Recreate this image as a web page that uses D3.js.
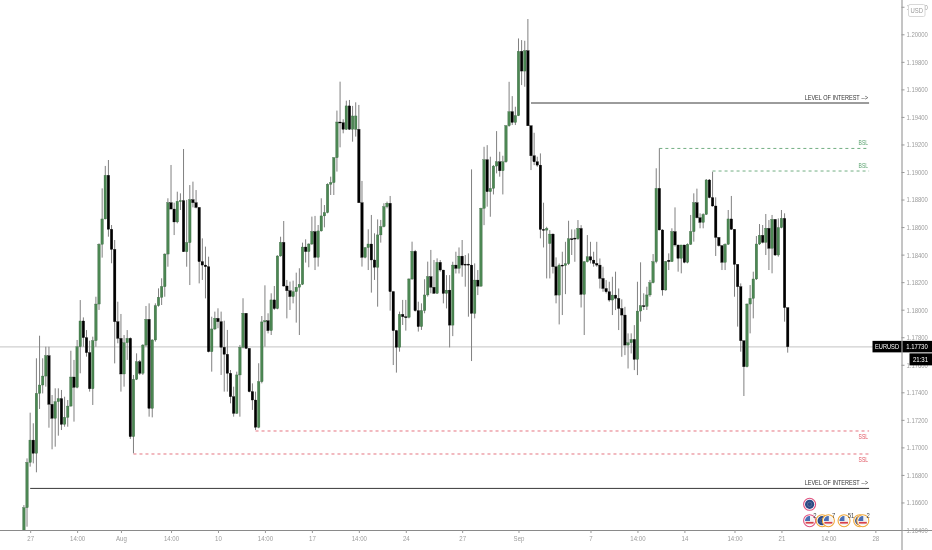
<!DOCTYPE html>
<html>
<head>
<meta charset="utf-8">
<style>
html, body { margin: 0; padding: 0; background: #fff; }
svg { display: block; filter: blur(0.3px); }
text { font-family: "Liberation Sans", sans-serif; }
</style>
<script src="https://cdn.jsdelivr.net/npm/d3@7"></script>
</head>
<body>
<svg width="932" height="550"></svg>
<script>
var opens = [
1.16327,1.16562,1.16891,1.17053,1.16957,1.17392,1.17453,1.17518,1.17666,1.17313,
1.17211,1.17332,1.17354,1.17167,1.17218,1.17300,1.17511,1.17436,1.17731,1.17918,
1.17797,1.17688,1.17426,1.17775,1.18041,1.18475,1.18659,1.18976,1.18584,1.18438,
1.17913,1.17792,1.17533,1.17760,1.17792,1.17078,1.17494,1.17622,1.17538,1.17743,
1.17930,1.17283,1.17780,1.18029,1.18090,1.18167,1.18404,1.18777,1.18731,1.18637,
1.18787,1.18792,1.18421,1.18487,1.18799,1.18777,1.18743,1.18349,1.18324,1.18312,
1.17695,1.17860,1.17937,1.17913,1.17727,1.17676,1.17538,1.17368,1.17247,1.17526,
1.17727,1.17974,1.17719,1.17405,1.17344,1.17146,1.17477,1.17911,1.17920,1.17848,
1.18071,1.18008,1.18390,1.18489,1.18172,1.18138,1.18095,1.18131,1.18163,1.18184,
1.18455,1.18422,1.18477,1.18567,1.18380,1.18572,1.18681,1.18705,1.18911,1.18923,
1.19104,1.19363,1.19358,1.19310,1.19480,1.19310,1.19310,1.19310,1.18777,1.18380,
1.18451,1.18477,1.18361,1.18308,1.18543,1.18603,1.18748,1.18773,1.18131,1.17848,
1.17727,1.17966,1.17949,1.17945,1.18223,1.18424,1.17993,1.17877,1.17993,1.18107,
1.18240,1.18163,1.18119,1.18344,1.18288,1.18118,1.18142,1.17888,1.18324,1.18300,
1.18389,1.18331,1.18331,1.18324,1.17973,1.18215,1.18171,1.18736,1.19089,1.18857,
1.18881,1.19043,1.19074,1.19009,1.19074,1.19336,1.19438,1.19360,1.19409,1.19876,
1.19733,1.19881,1.19336,1.19118,1.19074,1.19050,1.18583,1.18578,1.18481,1.18549,
1.18312,1.18106,1.18324,1.18321,1.18333,1.18515,1.18520,1.18515,1.18590,1.18111,
1.18348,1.18384,1.18360,1.18336,1.18324,1.18227,1.18154,1.18130,1.18070,1.18106,
1.18082,1.18009,1.17961,1.17743,1.17760,1.17784,1.17639,1.17990,1.18029,1.18024,
1.18107,1.18196,1.18349,1.18881,1.18579,1.18143,1.18359,1.18349,1.18567,1.18470,
1.18373,1.18470,1.18344,1.18475,1.18567,1.18777,1.18668,1.18634,1.18692,1.18942,
1.18814,1.18753,1.18525,1.18465,1.18344,1.18475,1.18659,1.18584,1.18329,1.18167,
1.17775,1.17586,1.18041,1.18082,1.18223,1.18477,1.18540,1.18489,1.18591,1.18446,
1.18656,1.18397,1.18596,1.18663,1.18015];
var highs = [
1.16581,1.16920,1.17252,1.17175,1.17647,1.17811,1.17647,1.17731,1.17731,1.17380,
1.17429,1.17429,1.17417,1.17368,1.17344,1.17702,1.17635,1.17780,1.18070,1.17944,
1.17852,1.17775,1.17804,1.18094,1.18482,1.18881,1.19044,1.19087,1.18615,1.18506,
1.18058,1.17969,1.17816,1.17852,1.17799,1.17526,1.17683,1.17635,1.17750,1.18027,
1.18046,1.17785,1.18046,1.18155,1.18228,1.18409,1.18809,1.19051,1.18777,1.18857,
1.18845,1.19167,1.18797,1.18905,1.18930,1.18869,1.18743,1.18518,1.18458,1.18385,
1.17949,1.17986,1.18010,1.17986,1.17920,1.17853,1.17562,1.17441,1.17550,1.17744,
1.18083,1.17974,1.17719,1.17465,1.17405,1.17611,1.17954,1.18177,1.17974,1.18119,
1.18172,1.18395,1.18530,1.18644,1.18216,1.18204,1.18211,1.18269,1.18301,1.18487,
1.18511,1.18482,1.18676,1.18681,1.18615,1.18809,1.18760,1.18918,1.18966,1.19107,
1.19446,1.19656,1.19383,1.19518,1.19523,1.19480,1.19506,1.19487,1.18935,1.18455,
1.18584,1.18688,1.18555,1.18656,1.18652,1.18773,1.18785,1.18826,1.18136,1.17853,
1.17986,1.18071,1.18071,1.18228,1.18494,1.18434,1.18058,1.18046,1.18221,1.18349,
1.18434,1.18361,1.18373,1.18361,1.18288,1.18251,1.18251,1.18348,1.18421,1.18452,
1.18506,1.18397,1.18409,1.19019,1.18336,1.18288,1.18740,1.19183,1.19195,1.19111,
1.19050,1.19297,1.19147,1.19118,1.19341,1.19655,1.19551,1.19474,1.19970,1.19958,
1.19953,1.20111,1.19338,1.19285,1.19111,1.19135,1.18777,1.18602,1.18578,1.18554,
1.18380,1.18336,1.18421,1.18493,1.18646,1.18583,1.18583,1.18651,1.18614,1.18353,
1.18542,1.18493,1.18421,1.18493,1.18372,1.18312,1.18215,1.18203,1.18239,1.18276,
1.18154,1.18075,1.18021,1.17828,1.17828,1.17888,1.18203,1.18344,1.18119,1.18167,
1.18216,1.18404,1.19027,1.19172,1.18584,1.18354,1.18409,1.18591,1.18743,1.18470,
1.18470,1.18470,1.18482,1.18688,1.18845,1.18879,1.18700,1.18700,1.18949,1.18949,
1.19002,1.18816,1.18525,1.18470,1.18482,1.18724,1.18826,1.18584,1.18329,1.18191,
1.17775,1.18046,1.18179,1.18276,1.18535,1.18622,1.18615,1.18695,1.18651,1.18688,
1.18656,1.18663,1.18724,1.18700,1.18015];
var lows = [
1.16255,1.16424,1.16860,1.16884,1.16819,1.17279,1.17392,1.17441,1.17143,1.16986,
1.17005,1.17085,1.17126,1.17150,1.17150,1.17296,1.17187,1.17429,1.17538,1.17731,
1.17659,1.17405,1.17308,1.17731,1.17998,1.18378,1.18656,1.18530,1.18337,1.17610,
1.17756,1.17405,1.17441,1.17635,1.17061,1.16957,1.17489,1.17526,1.17526,1.17731,
1.17223,1.17218,1.17768,1.18022,1.18034,1.18094,1.18312,1.18729,1.18542,1.18627,
1.18724,1.18419,1.18312,1.18179,1.18743,1.18736,1.18191,1.18216,1.18082,1.17690,
1.17550,1.17852,1.17865,1.17526,1.17405,1.17405,1.17320,1.17223,1.17243,1.17223,
1.17719,1.17715,1.17400,1.17272,1.17126,1.17139,1.17465,1.17732,1.17828,1.17816,
1.17998,1.18003,1.18385,1.18167,1.17937,1.17998,1.18046,1.17906,1.17816,1.18179,
1.18342,1.18308,1.18470,1.18288,1.18313,1.18567,1.18598,1.18700,1.18833,1.18833,
1.19003,1.19179,1.19281,1.19305,1.19305,1.19220,1.19257,1.18775,1.18313,1.18373,
1.18288,1.18124,1.18216,1.18022,1.18487,1.18598,1.18736,1.17993,1.17598,1.17543,
1.17695,1.17889,1.17848,1.17937,1.18216,1.17986,1.17841,1.17853,1.17974,1.18095,
1.18119,1.18114,1.18114,1.18276,1.18046,1.18009,1.17726,1.17808,1.18263,1.18263,
1.18239,1.18167,1.17949,1.17627,1.17937,1.18106,1.18167,1.18614,1.18748,1.18675,
1.18837,1.18990,1.18966,1.18837,1.19067,1.19329,1.19341,1.19341,1.19406,1.19631,
1.19619,1.19334,1.19014,1.19050,1.19038,1.18518,1.18452,1.18227,1.18227,1.18263,
1.18046,1.17893,1.17961,1.18113,1.18324,1.18397,1.18348,1.18506,1.18016,1.17816,
1.18343,1.18336,1.18312,1.18312,1.18154,1.18130,1.18118,1.18058,1.17961,1.17997,
1.17852,1.17658,1.17670,1.17573,1.17682,1.17561,1.17525,1.17913,1.17998,1.17998,
1.18094,1.18191,1.18337,1.18576,1.18102,1.18138,1.18288,1.18349,1.18458,1.18276,
1.18264,1.18337,1.18337,1.18470,1.18494,1.18663,1.18591,1.18591,1.18688,1.18809,
1.18748,1.18390,1.18458,1.18288,1.18288,1.18470,1.18579,1.18094,1.17877,1.17695,
1.17373,1.17581,1.17828,1.17937,1.18216,1.18470,1.18482,1.18397,1.18288,1.18264,
1.18390,1.18385,1.18591,1.17913,1.17688];
var closes = [
1.16562,1.16891,1.17053,1.16957,1.17392,1.17453,1.17518,1.17666,1.17313,1.17211,
1.17332,1.17354,1.17167,1.17218,1.17300,1.17511,1.17436,1.17731,1.17918,1.17797,
1.17688,1.17426,1.17775,1.18041,1.18475,1.18659,1.18976,1.18584,1.18438,1.17913,
1.17792,1.17533,1.17760,1.17792,1.17078,1.17494,1.17622,1.17538,1.17743,1.17930,
1.17283,1.17780,1.18029,1.18090,1.18167,1.18404,1.18777,1.18731,1.18637,1.18787,
1.18792,1.18421,1.18487,1.18799,1.18777,1.18743,1.18349,1.18324,1.18312,1.17695,
1.17860,1.17937,1.17913,1.17727,1.17676,1.17538,1.17368,1.17247,1.17526,1.17727,
1.17974,1.17719,1.17405,1.17344,1.17146,1.17477,1.17911,1.17920,1.17848,1.18071,
1.18008,1.18390,1.18489,1.18172,1.18138,1.18095,1.18131,1.18163,1.18184,1.18455,
1.18422,1.18477,1.18567,1.18380,1.18572,1.18681,1.18705,1.18911,1.18923,1.19104,
1.19363,1.19358,1.19310,1.19480,1.19310,1.19407,1.19407,1.18777,1.18380,1.18451,
1.18477,1.18361,1.18308,1.18543,1.18603,1.18748,1.18773,1.18131,1.17848,1.17727,
1.17966,1.17949,1.17945,1.18223,1.18424,1.17993,1.17877,1.17993,1.18107,1.18240,
1.18163,1.18119,1.18344,1.18288,1.18118,1.18142,1.17888,1.18324,1.18300,1.18389,
1.18324,1.18324,1.18324,1.17973,1.18215,1.18171,1.18736,1.19089,1.18857,1.18881,
1.19043,1.19074,1.19009,1.19074,1.19336,1.19438,1.19360,1.19409,1.19876,1.19733,
1.19881,1.19336,1.19118,1.19074,1.19050,1.18583,1.18578,1.18590,1.18549,1.18312,
1.18106,1.18324,1.18321,1.18333,1.18515,1.18510,1.18515,1.18590,1.18111,1.18348,
1.18384,1.18360,1.18336,1.18324,1.18227,1.18154,1.18130,1.18070,1.18106,1.18082,
1.18009,1.17961,1.17743,1.17760,1.17784,1.17639,1.17990,1.18029,1.18024,1.18107,
1.18196,1.18349,1.18881,1.18579,1.18143,1.18349,1.18349,1.18567,1.18470,1.18373,
1.18470,1.18344,1.18475,1.18567,1.18777,1.18668,1.18634,1.18692,1.18942,1.18814,
1.18753,1.18525,1.18465,1.18344,1.18475,1.18659,1.18584,1.18329,1.18167,1.17775,
1.17586,1.18041,1.18082,1.18223,1.18477,1.18540,1.18489,1.18591,1.18446,1.18656,
1.18397,1.18596,1.18663,1.18015,1.17731];

var priceTicks = [1.202,1.2,1.198,1.196,1.194,1.192,1.19,1.188,1.186,1.184,1.182,1.18,1.178,1.176,1.174,1.172,1.17,1.168,1.166,1.164];
var timeTickIndex = [2,17,31,47,62,77,92,107,122,140,158,181,196,211,227,242,257,272];
var timeTickLabels = ["27","14:00","Aug","14:00","10","14:00","17","14:00","24","27","Sep","7","14:00","14","14:00","21","14:00","28"];

var lastPrice = 1.1773;
var levelNames = ["LEVEL OF INTEREST -->","BSL","BSL","SSL","SSL","LEVEL OF INTEREST -->"];
var levelPrices = [1.19501,1.19171,1.19007,1.17119,1.16952,1.16702];
var levelStarts = [162,203,220,74,35,2];
var levelEnd = 270;
var levelKinds = ["solid","bsl","bsl","ssl","ssl","solid"];

var eventIndex = [251,251,255,257,262,267,268];
var eventRows = [1,0,0,0,0,0,0];
var eventKinds = ["eu","us","eu","us","us","eu","us"];
var eventCounts = ["","2","","7","51","","2"];

var svg = d3.select("svg"),
    plotRight = 901.5,
    plotBottom = 530;

var x = d3.scaleLinear().domain([0, 244]).range([23.9, 787.7]);
var y = d3.scaleLinear().domain([1.2, 1.164]).range([34.3, 530]);

// the labels in the picture are narrower than any installed font,
// so squash each one sideways around its own anchor
function squeeze(sel, factor) {
    sel.each(function () {
        var ax = +this.getAttribute("x") || 0;
        this.setAttribute("transform", "translate(" + ax * (1 - factor) + ",0) scale(" + factor + ",1)");
    });
}

var defs = svg.append("defs");
defs.append("clipPath").attr("id", "plot").append("rect")
    .attr("width", plotRight).attr("height", plotBottom);

var chart = svg.append("g").attr("clip-path", "url(#plot)");

// last price line goes under the candles
chart.append("line")
    .attr("x1", 0).attr("x2", plotRight)
    .attr("y1", y(lastPrice)).attr("y2", y(lastPrice))
    .attr("stroke", "#cfcfcf").attr("stroke-width", 1.3);

var levelColor = { solid: "#222", bsl: "#4f9a63", ssl: "#e0525f" };
var labelColor = { solid: "#333", bsl: "#5aa26f", ssl: "#e0525f" };

levelNames.forEach(function (name, i) {
    var kind = levelKinds[i];
    chart.append("line")
        .attr("x1", x(levelStarts[i])).attr("x2", x(levelEnd))
        .attr("y1", y(levelPrices[i])).attr("y2", y(levelPrices[i]))
        .attr("stroke", levelColor[kind])
        .attr("stroke-width", kind == "solid" ? 0.9 : 0.8)
        .attr("stroke-dasharray", kind == "solid" ? null : "3,3");
    var below = kind == "ssl";
    chart.append("text")
        .attr("x", x(levelEnd) - 1)
        .attr("y", y(levelPrices[i]) + (below ? 8 : -3))
        .attr("text-anchor", "end")
        .attr("font-size", 6.6)
        .attr("fill", labelColor[kind])
        .text(name)
        .call(squeeze, kind == "solid" ? 0.84 : 0.76);
});

var candles = d3.range(closes.length);

chart.append("g").selectAll("line").data(candles).enter().append("line")
    .attr("x1", function (d) { return x(d); })
    .attr("x2", function (d) { return x(d); })
    .attr("y1", function (d) { return y(highs[d]); })
    .attr("y2", function (d) { return y(lows[d]); })
    .attr("stroke", "#808080")
    .attr("stroke-width", 1);

chart.append("g").selectAll("rect").data(candles).enter().append("rect")
    .attr("x", function (d) { return x(d) - 1.25; })
    .attr("width", 2.5)
    .attr("y", function (d) { return y(Math.max(opens[d], closes[d])); })
    .attr("height", function (d) { return Math.max(1, Math.abs(y(opens[d]) - y(closes[d]))); })
    .attr("fill", function (d) { return closes[d] >= opens[d] ? "#4c8753" : "#000"; })
    .attr("stroke", function (d) { return closes[d] >= opens[d] ? "#2f5e37" : "#000"; })
    .attr("stroke-width", 0.3);

// event badges sitting on the time axis
var rowY = [520.7, 504.3];

function drawBadge(i) {
    var cx = x(eventIndex[i]), cy = rowY[eventRows[i]], kind = eventKinds[i];
    var ring = (i < 2) ? "#e0527f" : "#f0a83c";
    var g = svg.append("g").attr("transform", "translate(" + cx + "," + cy + ")");
    g.append("circle").attr("r", 6).attr("fill", "#fff").attr("stroke", ring).attr("stroke-width", 1.1);
    if (kind == "eu") {
        g.append("circle").attr("r", 4.6).attr("fill", "#2d4a86");
        g.append("circle").attr("r", 2.2).attr("fill", "none").attr("stroke", "#6e7f9e").attr("stroke-width", 0.6);
    } else {
        g.append("circle").attr("r", 4.6).attr("fill", "#f2f2f2");
        g.append("rect").attr("x", -4).attr("y", 1.2).attr("width", 8).attr("height", 1.7).attr("fill", "#d8404a");
        g.append("path").attr("d", "M-4.6,0.4A4.6,4.6 0 0 1 0.4,-4.6V0.4Z").attr("fill", "#4a6fb5");
    }
    if (eventCounts[i]) {
        svg.append("text")
            .attr("x", cx + 3.6).attr("y", cy - 3)
            .attr("font-size", 7).attr("fill", "#444")
            .text(eventCounts[i])
            .call(squeeze, 0.85);
    }
}
// same paint order as the picture: later badges overlap earlier ones
d3.range(eventIndex.length).forEach(drawBadge);

// axes
var axisColor = "#8a8a8a", tickColor = "#999", labelGray = "#9c9c9c";

var xAxis = d3.axisBottom(x)
    .tickValues(timeTickIndex)
    .tickSize(3)
    .tickPadding(3)
    .tickFormat(function (d, i) { return timeTickLabels[i]; });

var gx = svg.append("g").attr("transform", "translate(0," + plotBottom + ")").call(xAxis);
gx.select(".domain").attr("d", "M0,0.5H932").attr("stroke", axisColor);
gx.selectAll(".tick line").attr("stroke", tickColor);
gx.selectAll(".tick text")
    .attr("font-size", 7.6).attr("fill", labelGray).attr("font-family", null)
    .call(squeeze, 0.8);

var yAxis = d3.axisRight(y)
    .tickValues(priceTicks)
    .tickSize(3)
    .tickPadding(2)
    .tickFormat(d3.format(".5f"));

var gy = svg.append("g").attr("transform", "translate(" + plotRight + ",0)").call(yAxis);
gy.select(".domain").attr("d", "M0.5,0V550").attr("stroke", axisColor);
gy.selectAll(".tick line").attr("stroke", tickColor);
gy.selectAll(".tick text")
    .attr("font-size", 7.6).attr("fill", labelGray).attr("font-family", null)
    .call(squeeze, 0.78);

// currency button and price tags go over the axis labels
svg.append("rect")
    .attr("x", 908.5).attr("y", 4.5).attr("width", 16.5).attr("height", 12).attr("rx", 1.5)
    .attr("fill", "#fff").attr("stroke", "#d8d8d8");
svg.append("text")
    .attr("x", 916.8).attr("y", 13).attr("text-anchor", "middle")
    .attr("font-size", 7.6).attr("fill", "#999").text("USD").call(squeeze, 0.78);

var tagY = y(lastPrice);
svg.append("rect").attr("x", 872.5).attr("y", tagY - 6).attr("width", 29).attr("height", 11.5).attr("fill", "#000");
svg.append("rect").attr("x", 902.5).attr("y", tagY - 6).attr("width", 29.5).attr("height", 11.5).attr("fill", "#000");
svg.append("rect").attr("x", 909.5).attr("y", tagY + 6.5).attr("width", 22.5).attr("height", 12).attr("fill", "#000");
svg.append("text").attr("x", 887).attr("y", tagY + 2.6).attr("text-anchor", "middle")
    .attr("font-size", 7.6).attr("fill", "#fff").text("EURUSD").call(squeeze, 0.75);
svg.append("text").attr("x", 917).attr("y", tagY + 2.6).attr("text-anchor", "middle")
    .attr("font-size", 7.6).attr("fill", "#fff").text(d3.format(".5f")(lastPrice)).call(squeeze, 0.78);
svg.append("text").attr("x", 920.5).attr("y", tagY + 15).attr("text-anchor", "middle")
    .attr("font-size", 7.6).attr("fill", "#fff").text("21:31").call(squeeze, 0.8);
</script>
</body>
</html>
